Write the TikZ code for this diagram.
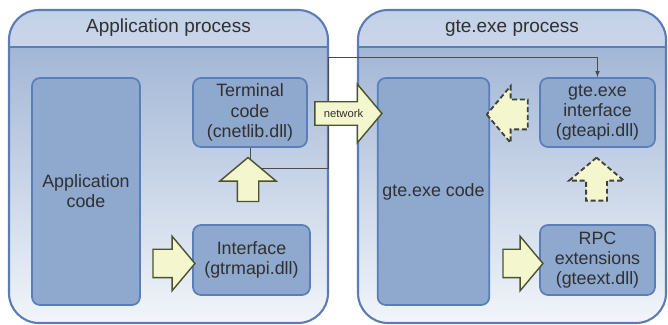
\documentclass[tikz,border=0pt]{standalone}
\usepackage{fontspec}
\setmainfont{Liberation Sans}
\usetikzlibrary{shapes,arrows}
\usetikzlibrary{calc,positioning}
\definecolor{procline}{HTML}{5B7DB4}
\definecolor{bodytop}{HTML}{97AED1}
\definecolor{bodybot}{HTML}{F2F5FA}
\definecolor{headtop}{HTML}{C3D1E7}
\definecolor{headbot}{HTML}{F5F8FC}
\definecolor{boxfill}{HTML}{8EA8CE}
\definecolor{boxline}{HTML}{5A7EB7}
\definecolor{arrfill}{HTML}{F4F7CD}
\definecolor{arrline}{HTML}{48532F}
\definecolor{txt}{HTML}{303030}
\tikzstyle{procbox} = [rectangle,rounded corners=0.75cm,draw=procline,line width=1.5pt,top color=bodytop,bottom color=bodybot,
  path picture={
    \fill[sharp corners,top color=headtop,bottom color=headbot] (path picture bounding box.north west) rectangle ($(path picture bounding box.north east)+(0,-0.925)$);
    \draw[sharp corners,procline,line width=1.5pt] ($(path picture bounding box.north west)+(0,-0.925)$)--($(path picture bounding box.north east)+(0,-0.925)$);
  }]
\tikzstyle{proctitle} = [text=txt,font=\fontsize{13.5}{15}\selectfont]
\tikzstyle{codebox} = [rectangle,rounded corners=0.2cm,draw=boxline,line width=1.2pt,fill=boxfill,align=center,text=txt,font=\fontsize{12.7}{14.4}\selectfont]
\tikzstyle{blockarr} = [single arrow,single arrow head indent=0,single arrow tip angle=100,inner xsep=0,draw=arrline,fill=arrfill,line width=1pt]
\tikzstyle{dasharr} = [blockarr,draw=black!75,line width=1.3pt,dash pattern=on 3.5pt off 2pt]

\begin{document}
\begin{tikzpicture}[>=latex]
\useasboundingbox (0,0) rectangle (16.7,-8.125);

% process frames
\node (appproc) [procbox,minimum width=7.975cm,minimum height=7.825cm] at (4.2125,-4.1625) {};
\node (gteproc) [procbox,minimum width=7.7cm,minimum height=7.825cm] at (12.8,-4.1625) {};
\node (apptitle) [proctitle] at (4.2125,-0.7) {Application process};
\node (gtetitle) [proctitle] at (12.8,-0.7) {gte.exe process};

% boxes
\node (appcode) [codebox,minimum width=2.7cm,minimum height=5.675cm] at (2.15,-4.7875) {Application\\code};
\node (term) [codebox,minimum width=2.85cm,minimum height=1.725cm] at (6.25,-2.8125) {Terminal\\code\\(cnetlib.dll)};
\node (iface) [codebox,minimum width=2.925cm,minimum height=1.75cm] at (6.2875,-6.5) {Interface\\(gtrmapi.dll)};
\node (gtecode) [codebox,minimum width=2.675cm,minimum height=5.675cm] at (10.8375,-4.7875) {gte.exe code};
\node (gteif) [codebox,minimum width=2.875cm,minimum height=1.725cm] at (14.9375,-2.8125) {gte.exe\\interface\\(gteapi.dll)};
\node (rpc) [codebox,minimum width=2.875cm,minimum height=1.75cm] at (14.9375,-6.5) {RPC\\extensions\\(gteext.dll)};

% connection line (under the arrows)
\coordinate (bend1) at (8.2,-4.2);
\coordinate (bend2) at (8.2,-1.425);
\draw[->,black!70,line width=0.5pt] (term.south)|-(bend1)--(bend2)-|(gteif.north);

% block arrows
\node (a1) [blockarr,minimum height=1.05cm,inner ysep=0.3375cm,single arrow head extend=0.325cm] at (4.2,-6.5875) {};
\node (a2) [blockarr,rotate=90,minimum height=1.1cm,inner ysep=0.25cm,single arrow head extend=0.4375cm] at (6.2,-4.6) {};
\node (net) [blockarr,minimum height=1.675cm,inner ysep=0.17cm,text height=6pt,text depth=0pt,single arrow head extend=0.4375cm,font=\fontsize{8}{9}\selectfont,text=txt] at (8.5875,-2.8375) {network};
\node (a3) [blockarr,minimum height=1.0cm,inner ysep=0.3375cm,single arrow head extend=0.325cm] at (12.925,-6.5875) {};
\node (d1) [dasharr,rotate=90,minimum height=1.075cm,inner ysep=0.2375cm,single arrow head extend=0.425cm] at (14.9125,-4.5875) {};
\node (d2) [dasharr,rotate=180,minimum height=1.025cm,inner ysep=0.35cm,single arrow head extend=0.3375cm] at (12.8375,-2.8625) {};

\end{tikzpicture}
\end{document}
